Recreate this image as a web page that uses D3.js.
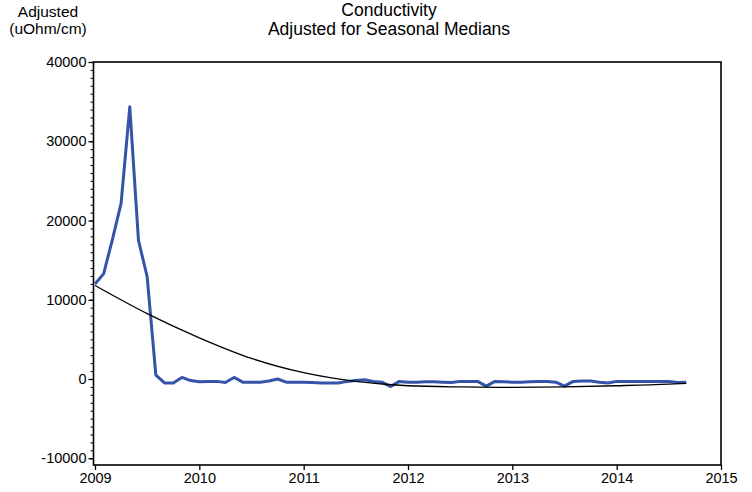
<!DOCTYPE html>
<html>
<head>
<meta charset="utf-8">
<script src="https://cdn.jsdelivr.net/npm/d3@7"></script>
<style>
  html, body { margin: 0; padding: 0; background: #fff; }
  svg { display: block; font-family: "Liberation Sans", Arial, sans-serif; }
</style>
</head>
<body>
<svg id="chart" width="752" height="492"></svg>
<script>
// ---- Data ----
const startYear = 2009; // first monthly observation (Jan 2009)
const adjustedValues = [
  12000, 13300, 17600, 22150, 34350, 17500, 12900, 500, -500, -500,
  200, -200, -350, -300, -300, -450, 200, -400, -400, -400,
  -250, 0, -400, -400, -400, -450, -500, -500, -500, -300,
  -200, -100, -300, -400, -950, -300, -400, -400, -350, -350,
  -400, -450, -300, -300, -300, -900, -300, -350, -400, -400,
  -350, -300, -300, -400, -900, -300, -250, -250, -400, -500,
  -300, -300, -300, -300, -300, -300, -300, -450, -400
];
const trendYears  = [2009.0, 2009.5, 2010.0, 2010.5, 2011.0, 2011.5, 2012.0, 2012.5, 2013.0, 2013.5, 2014.0, 2014.5, 2014.667];
const trendValues = [11800, 8250, 5200, 2600, 800, -300, -850, -1000, -1050, -1000, -850, -650, -550];
const yearTicks   = [2009, 2010, 2011, 2012, 2013, 2014, 2015];
const valueTicks  = [-10000, 0, 10000, 20000, 30000, 40000];
const titleLines  = ["Conductivity", "Adjusted for Seasonal Medians"];
const yTitleLines = ["Adjusted", "(uOhm/cm)"];

// ---- Layout ----
const svg = d3.select("#chart");
const plotLeft = 93.5, plotRight = 721, plotTop = 62, plotBottom = 465;

const x = d3.scaleLinear().domain([2009, 2015]).range([95, 721]);
const y = d3.scaleLinear().domain([-10850, 40000]).range([plotBottom, plotTop]);
const plainFmt = d => String(d); // hyphen-minus like the reference

// Frame
svg.append("rect")
  .attr("x", plotLeft).attr("y", plotTop)
  .attr("width", plotRight - plotLeft).attr("height", plotBottom - plotTop)
  .attr("fill", "none").attr("stroke", "#000").attr("stroke-width", 1.6);

// Y minor ticks
const yMinor = svg.append("g").attr("transform", `translate(${plotLeft},0)`)
  .call(d3.axisLeft(y).tickValues(d3.range(-10000, 40001, 1000)).tickSize(3).tickFormat(""));
yMinor.select(".domain").remove();
yMinor.selectAll("line").attr("stroke", "#000").attr("stroke-width", 1);

// Y major ticks
const yAxis = svg.append("g").attr("transform", `translate(${plotLeft},0)`)
  .call(d3.axisLeft(y).tickValues(valueTicks).tickSize(5).tickPadding(2).tickFormat(plainFmt));
yAxis.select(".domain").remove();
yAxis.selectAll("line").attr("stroke", "#000").attr("stroke-width", 1.3);
yAxis.selectAll("text").attr("font-size", 14.5).attr("fill", "#000")
  .attr("font-family", "Liberation Sans, Arial, sans-serif");

// X ticks
const xAxis = svg.append("g").attr("transform", `translate(0,${plotBottom})`)
  .call(d3.axisBottom(x).tickValues(yearTicks).tickSize(5).tickPadding(3).tickFormat(plainFmt));
xAxis.select(".domain").remove();
xAxis.selectAll("line").attr("stroke", "#000").attr("stroke-width", 1.3);
xAxis.selectAll("text").attr("font-size", 14.5).attr("fill", "#000")
  .attr("font-family", "Liberation Sans, Arial, sans-serif");

// Series line
const series = adjustedValues.map((v, i) => ({ t: startYear + i / 12, v }));
svg.append("path")
  .datum(series)
  .attr("fill", "none")
  .attr("stroke", "#3453a9")
  .attr("stroke-width", 3)
  .attr("stroke-linejoin", "round")
  .attr("d", d3.line().x(d => x(d.t)).y(d => y(d.v)));

// Trend line
const trend = trendYears.map((t, i) => ({ t, v: trendValues[i] }));
svg.append("path")
  .datum(trend)
  .attr("fill", "none")
  .attr("stroke", "#000")
  .attr("stroke-width", 1.3)
  .attr("d", d3.line().curve(d3.curveMonotoneX).x(d => x(d.t)).y(d => y(d.v)));

// Titles
svg.append("g").selectAll("text").data(titleLines).join("text")
  .attr("x", 389).attr("y", (d, i) => 15.5 + i * 19)
  .attr("text-anchor", "middle").attr("font-size", 17.5).attr("fill", "#000")
  .text(d => d);

svg.append("g").selectAll("text").data(yTitleLines).join("text")
  .attr("x", 48).attr("y", (d, i) => 17 + i * 17)
  .attr("text-anchor", "middle").attr("font-size", 15.5).attr("fill", "#000")
  .text(d => d);
</script>
</body>
</html>
